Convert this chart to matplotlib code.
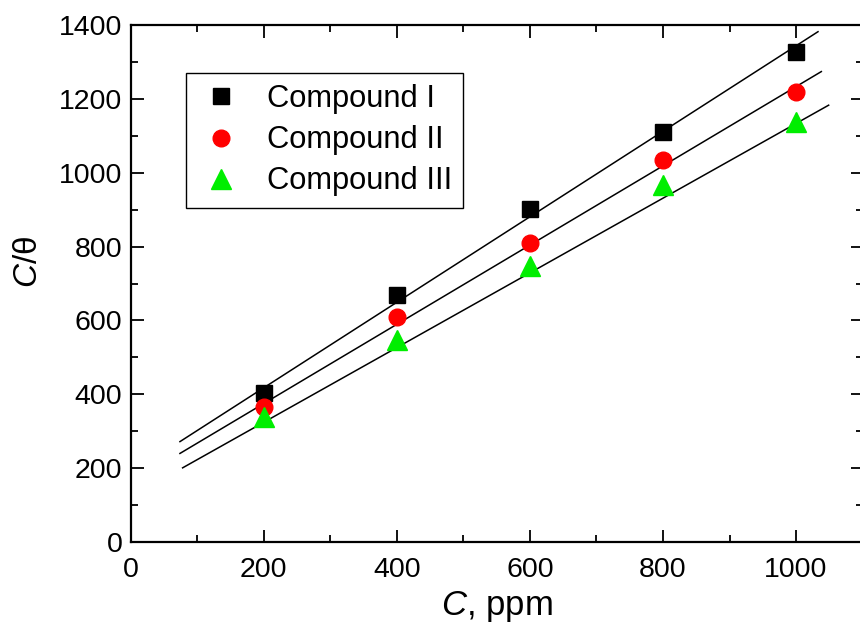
import matplotlib
matplotlib.use("Agg")
import matplotlib.pyplot as plt
from matplotlib.ticker import MultipleLocator

plt.rcParams['font.family'] = ['Liberation Sans', 'DejaVu Sans']
plt.rcParams['mathtext.fontset'] = 'custom'
plt.rcParams['mathtext.it'] = 'Liberation Sans:italic'
plt.rcParams['mathtext.rm'] = 'Liberation Sans'

# concentrations (ppm)
conc = [200, 400, 600, 800, 1000]
# C/theta values
comp1 = [403, 669, 902, 1111, 1327]
comp2 = [365, 609, 810, 1034, 1219]
comp3 = [338, 547, 747, 967, 1138]
labels = ['Compound I', 'Compound II', 'Compound III']

# fitted lines, end points
fit1_x = [74, 1033]
fit1_y = [272, 1382]
fit2_x = [74, 1038]
fit2_y = [240, 1274]
fit3_x = [78, 1049]
fit3_y = [201, 1183]

fig = plt.figure(figsize=(8.6, 6.34), dpi=100)
ax = fig.add_axes([0.152, 0.145, 0.851, 0.8155])

for fx, fy in [(fit1_x, fit1_y), (fit2_x, fit2_y), (fit3_x, fit3_y)]:
    ax.plot(fx, fy, color='black', lw=1.1, zorder=2)

ax.plot(conc, comp1, 's', color='black', ms=11, ls='none', label=labels[0], zorder=3)
ax.plot(conc, comp2, 'o', color='red', ms=12, ls='none', label=labels[1], zorder=3)
ax.plot(conc, comp3, '^', color='#00ee00', ms=14, ls='none', label=labels[2], zorder=3)

ax.set_xlim(0, 1100)
ax.set_ylim(0, 1400)
ax.xaxis.set_major_locator(MultipleLocator(200))
ax.xaxis.set_minor_locator(MultipleLocator(100))
ax.yaxis.set_major_locator(MultipleLocator(200))
ax.yaxis.set_minor_locator(MultipleLocator(100))
ax.tick_params(which='both', direction='in', top=True, right=True, width=1.3)
ax.tick_params(which='major', length=9, labelsize=20.5)
ax.tick_params(axis='x', which='major', pad=11)
ax.tick_params(axis='y', which='major', pad=6)
ax.tick_params(which='minor', length=5)
for s in ax.spines.values():
    s.set_linewidth(1.6)

ax.set_xlabel(r'$C$, ppm', fontsize=25, labelpad=4)
ax.set_ylabel(r'$C$/θ', fontsize=24)
ax.yaxis.set_label_coords(-0.119, 0.5416)

leg = ax.legend(loc='upper left', bbox_to_anchor=(0.076, 0.907), fontsize=22.2,
                frameon=True, fancybox=False, edgecolor='black', framealpha=1,
                borderpad=0.36, labelspacing=0.36, handletextpad=0.7,
                handlelength=1.55, borderaxespad=0)
leg.get_frame().set_linewidth(1.0)

fig.savefig('out.png', dpi=100)
